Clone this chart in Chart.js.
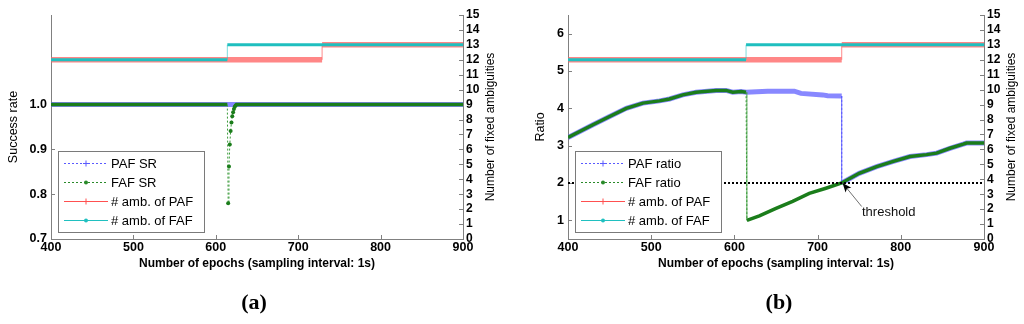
<!DOCTYPE html>
<html>
<head>
<meta charset="utf-8">
<script src="https://cdn.jsdelivr.net/npm/chart.js@4.4.1/dist/chart.umd.min.js"></script>
<style>
  html, body { margin: 0; padding: 0; background: #fff; }
  body { width: 1024px; height: 324px; position: relative; overflow: hidden; }
  canvas { position: absolute; top: 0; }
  #cA { left: 0; }
  #cB { left: 512px; }
  .lab { position: absolute; top: 289px; transform: translateX(-50%);
         font: bold 22px "Liberation Serif", "Times New Roman", serif; color: #000; }
</style>
</head>
<body>
<canvas id="cA" width="512" height="324"></canvas>
<canvas id="cB" width="512" height="324"></canvas>
<div class="lab" style="left:254px">(a)</div>
<div class="lab" style="left:779px">(b)</div>
<script>
// ---- data ----
const epochTicks = [400, 500, 600, 700, 800, 900];
const srTicks = [0.7, 0.8, 0.9, 1.0];
const ratioTicks = [1, 2, 3, 4, 5, 6];
const ambTicks = [0, 1, 2, 3, 4, 5, 6, 7, 8, 9, 10, 11, 12, 13, 14, 15];

// (a) success rate
const pafSrEpochs = [400, 900];
const pafSR = [1, 1];
const fafSrEpochs = [400, 614, 615, 616, 617, 618, 619, 620, 621, 622, 623, 624, 625, 900];
const fafSR = [1, 1, 0.78, 0.862, 0.911, 0.941, 0.96, 0.974, 0.983, 0.99, 0.995, 0.998, 1, 1];

// number of fixed ambiguities (same in both panels)
const ambPafEpochs = [400, 729, 729, 900];
const ambPaf = [12, 12, 13, 13];
const ambFafEpochs = [400, 614, 614, 900];
const ambFaf = [12, 12, 13, 13];

// (b) ratio
const pafRatioEpochs = [400, 430, 450, 470, 490, 510, 522, 538, 554, 578, 590, 598, 608, 614, 640, 672, 680, 706, 712, 729,
  729, 750, 771, 791, 811, 831, 843, 859, 875, 879, 900];
const pafRatio = [3.22, 3.56, 3.78, 4.0, 4.14, 4.2, 4.25, 4.36, 4.43, 4.48, 4.48, 4.43, 4.45, 4.43, 4.46, 4.46, 4.40, 4.36, 4.34, 4.33,
  2.0, 2.26, 2.44, 2.58, 2.71, 2.76, 2.80, 2.93, 3.04, 3.07, 3.07];
const fafRatioEpochs = [400, 430, 450, 470, 490, 510, 522, 538, 554, 578, 590, 598, 608, 614,
  615, 630, 650, 670, 690, 710, 729, 750, 771, 791, 811, 831, 843, 859, 875, 879, 900];
const fafRatio = [3.22, 3.56, 3.78, 4.0, 4.14, 4.2, 4.25, 4.36, 4.43, 4.48, 4.48, 4.43, 4.45, 4.43,
  1.0, 1.12, 1.32, 1.51, 1.72, 1.86, 2.0, 2.26, 2.44, 2.58, 2.71, 2.76, 2.80, 2.93, 3.04, 3.07, 3.07];
const thrEpochs = [400, 900];
const thrRatio = [2, 2];

Chart.defaults.font.family = '"Liberation Sans", Arial, sans-serif';
Chart.defaults.color = '#000';

const BLUE = 'rgba(96,96,255,0.75)', GREEN = '#1b7d1b', RED = 'rgba(255,95,95,0.75)', CYAN = '#1fbfbf';

const pts = (xs, ys) => xs.map((x, i) => ({ x, y: ys[i] }));

// jumps between epochs are drawn thin, like the sparse markers in the original
function steep(c) {
  const dx = Math.abs(c.p1.x - c.p0.x), dy = Math.abs(c.p1.y - c.p0.y);
  return dy > 1.2 && dy > 1.5 * dx;
}

function lineSet(label, data, o) {
  return {
    label, data, order: o.order, yAxisID: o.axis || 'y',
    borderColor: o.color, borderWidth: o.width, borderDash: o.dash || [],
    pointRadius: o.marks || 0, pointHoverRadius: 0,
    pointBackgroundColor: o.jumpColor, pointBorderWidth: 0,
    segment: {
      borderWidth: c => steep(c) ? 1 : undefined,
      borderColor: c => steep(c) ? o.jumpColor : undefined,
      borderDash: c => steep(c) ? o.jumpDash : undefined
    },
    legend: o.legend
  };
}

const axisDeco = {
  id: 'axisDeco',
  beforeDatasetsDraw(chart) {
    const { ctx, chartArea: ca, scales } = chart;
    ctx.save();
    ctx.strokeStyle = '#808080';
    ctx.lineWidth = 1;
    ctx.beginPath();
    scales.x.ticks.forEach(t => {
      const px = Math.round(scales.x.getPixelForValue(t.value)) + 0.5;
      ctx.moveTo(px, ca.bottom); ctx.lineTo(px, ca.bottom - 4);
    });
    scales.y.ticks.forEach(t => {
      const py = Math.round(scales.y.getPixelForValue(t.value)) + 0.5;
      ctx.moveTo(ca.left, py); ctx.lineTo(ca.left + 4, py);
    });
    scales.y2.ticks.forEach(t => {
      const py = Math.round(scales.y2.getPixelForValue(t.value)) + 0.5;
      ctx.moveTo(ca.right, py); ctx.lineTo(ca.right - 4, py);
    });
    ctx.stroke();
    ctx.restore();
  },
  afterDraw(chart, args, opts) {
    const { ctx, chartArea: ca } = chart;
    ctx.save();
    ctx.translate(ca.right + 28, (ca.top + ca.bottom) / 2);
    ctx.rotate(-Math.PI / 2);
    ctx.fillStyle = '#000';
    ctx.font = '12px "Liberation Sans", Arial, sans-serif';
    ctx.textAlign = 'center';
    ctx.textBaseline = 'middle';
    ctx.fillText(opts.rightTitle, 0, 0);
    ctx.restore();
  }
};

const boxLegend = {
  id: 'boxLegend',
  afterDraw(chart) {
    const { ctx, chartArea: ca } = chart;
    const w = 146, h = 81;
    const x0 = Math.round(ca.left + 7), y0 = Math.round(ca.bottom - 7 - h);
    ctx.save();
    ctx.fillStyle = '#fff';
    ctx.fillRect(x0, y0, w, h);
    ctx.strokeStyle = '#7a7a7a';
    ctx.lineWidth = 1;
    ctx.strokeRect(x0 + 0.5, y0 + 0.5, w, h);
    const items = chart.data.datasets.filter(d => d.legend).sort((a, b) => a.legend.rank - b.legend.rank);
    items.forEach((d, i) => {
      const L = d.legend;
      const y = y0 + 12.5 + i * 19;
      ctx.strokeStyle = L.color;
      ctx.lineWidth = 1;
      ctx.setLineDash(L.dash);
      ctx.beginPath();
      ctx.moveTo(x0 + 6, y); ctx.lineTo(x0 + 50, y);
      ctx.stroke();
      ctx.setLineDash([]);
      const mx = x0 + 28;
      if (L.marker === 'plus') {
        ctx.beginPath();
        ctx.moveTo(mx - 3, y); ctx.lineTo(mx + 3, y);
        ctx.moveTo(mx, y - 3); ctx.lineTo(mx, y + 3);
        ctx.stroke();
      } else {
        ctx.fillStyle = L.color;
        ctx.beginPath();
        ctx.arc(mx, y, 2, 0, Math.PI * 2);
        ctx.fill();
      }
      ctx.fillStyle = '#000';
      ctx.font = '13px "Liberation Sans", Arial, sans-serif';
      ctx.textBaseline = 'middle';
      ctx.fillText(d.label, x0 + 53, y + 0.5);
    });
    ctx.restore();
  }
};

const arrowNote = {
  id: 'arrowNote',
  afterDatasetsDraw(chart, args, opts) {
    if (!opts.text) return;
    const { ctx, scales: { x, y } } = chart;
    const hx = x.getPixelForValue(opts.head[0]), hy = y.getPixelForValue(opts.head[1]);
    const tx = x.getPixelForValue(opts.tail[0]), ty = y.getPixelForValue(opts.tail[1]);
    const ang = Math.atan2(hy - ty, hx - tx);
    ctx.save();
    ctx.strokeStyle = '#707070';
    ctx.lineWidth = 1;
    ctx.beginPath();
    ctx.moveTo(tx, ty); ctx.lineTo(hx, hy);
    ctx.stroke();
    ctx.fillStyle = '#000';
    ctx.beginPath();
    ctx.moveTo(hx, hy);
    ctx.lineTo(hx - 10 * Math.cos(ang - 0.38), hy - 10 * Math.sin(ang - 0.38));
    ctx.lineTo(hx - 7 * Math.cos(ang), hy - 7 * Math.sin(ang));
    ctx.lineTo(hx - 10 * Math.cos(ang + 0.38), hy - 10 * Math.sin(ang + 0.38));
    ctx.closePath();
    ctx.fill();
    ctx.font = '13px "Liberation Sans", Arial, sans-serif';
    ctx.textAlign = 'center';
    ctx.textBaseline = 'middle';
    ctx.fillStyle = '#111';
    ctx.fillText(opts.text, x.getPixelForValue(opts.at[0]), y.getPixelForValue(opts.at[1]));
    ctx.restore();
  }
};

const tickFont = { size: 12.5, weight: 'bold' };
const axisGrid = { display: true, drawOnChartArea: false, drawTicks: false, color: '#808080' };
const axisBorder = { display: true, color: '#808080', width: 1 };

function makeOptions(p) {
  return {
    responsive: false,
    animation: false,
    devicePixelRatio: 1,
    layout: { padding: { top: 15, left: 0, right: 0, bottom: 0 } },
    plugins: {
      legend: { display: false },
      tooltip: { enabled: false },
      axisDeco: { rightTitle: 'Number of fixed ambiguities' },
      arrowNote: p.note || {}
    },
    scales: {
      x: {
        type: 'linear', min: 400, max: 900,
        afterBuildTicks: s => { s.ticks = epochTicks.map(v => ({ value: v })); },
        afterFit: s => { s.height = 85; },
        grid: axisGrid, border: axisBorder,
        ticks: { font: tickFont, padding: 1, maxRotation: 0, color: '#000' },
        title: { display: true, text: 'Number of epochs (sampling interval: 1s)',
                 font: { size: 12, weight: 'bold' }, color: '#000', padding: { top: 0, bottom: 53 } }
      },
      y: {
        type: 'linear', position: 'left', min: p.yMin, max: p.yMax,
        afterBuildTicks: s => { s.ticks = p.yTicks.map(v => ({ value: v })); },
        afterFit: s => { s.width = p.leftW; },
        grid: axisGrid, border: axisBorder,
        ticks: { font: tickFont, padding: 4, color: '#000', callback: p.yFmt },
        title: { display: true, text: p.yTitle, font: { size: 12.5 }, color: '#000', padding: { top: p.yTitlePad, bottom: 0 } }
      },
      y2: {
        type: 'linear', position: 'right', min: 0, max: 15,
        afterBuildTicks: s => { s.ticks = ambTicks.map(v => ({ value: v })); },
        afterFit: s => { s.width = p.rightW; },
        grid: axisGrid, border: axisBorder,
        ticks: { font: { size: 12, weight: 'bold' }, padding: 3, color: '#000', autoSkip: false }
      }
    }
  };
}

function ambSets() {
  return [
    lineSet('# amb. of PAF', pts(ambPafEpochs, ambPaf), { order: 4, axis: 'y2', color: RED, width: 5.5,
      jumpColor: 'rgba(255,110,110,0.8)', jumpDash: [],
      legend: { rank: 3, color: '#ff5050', dash: [], marker: 'plus' } }),
    lineSet('# amb. of FAF', pts(ambFafEpochs, ambFaf), { order: 3, axis: 'y2', color: CYAN, width: 3,
      jumpColor: 'rgba(40,200,200,0.6)', jumpDash: [],
      legend: { rank: 4, color: '#20c0c0', dash: [], marker: 'dot' } })
  ];
}

// ---- (a) success rate ----
new Chart(document.getElementById('cA'), {
  type: 'line',
  data: {
    datasets: [
      lineSet('PAF SR', pts(pafSrEpochs, pafSR), { order: 2, color: BLUE, width: 5,
        jumpColor: '#5a5aff', jumpDash: [2, 2],
        legend: { rank: 1, color: '#5a5aff', dash: [2, 2], marker: 'plus' } }),
      Object.assign(lineSet('FAF SR', pts(fafSrEpochs, fafSR), { order: 1, color: GREEN, width: 3.5,
        jumpColor: '#3a9a3a', jumpDash: [2, 2],
        legend: { rank: 2, color: '#2a8a2a', dash: [2, 2], marker: 'dot' } }),
        { pointRadius: c => (c.raw && c.raw.y < 0.9995 ? 2 : 0), pointBackgroundColor: GREEN }),
      ...ambSets()
    ]
  },
  options: makeOptions({
    yMin: 0.7, yMax: 1.2, yTicks: srTicks, yFmt: v => v.toFixed(1),
    yTitle: 'Success rate', yTitlePad: 6, leftW: 51, rightW: 49
  }),
  plugins: [axisDeco, boxLegend, arrowNote]
});

// ---- (b) ratio ----
new Chart(document.getElementById('cB'), {
  type: 'line',
  data: {
    datasets: [
      lineSet('threshold', pts(thrEpochs, thrRatio), { order: 0, color: '#000', width: 2, dash: [2, 2],
        jumpColor: '#000', jumpDash: [2, 2] }),
      lineSet('PAF ratio', pts(pafRatioEpochs, pafRatio), { order: 2, color: BLUE, width: 5,
        jumpColor: '#5a5aff', jumpDash: [2, 2],
        legend: { rank: 1, color: '#5a5aff', dash: [2, 2], marker: 'plus' } }),
      lineSet('FAF ratio', pts(fafRatioEpochs, fafRatio), { order: 1, color: GREEN, width: 3.5,
        jumpColor: '#3a9a3a', jumpDash: [2, 2],
        legend: { rank: 2, color: '#2a8a2a', dash: [2, 2], marker: 'dot' } }),
      ...ambSets()
    ]
  },
  options: makeOptions({
    yMin: 0.5, yMax: 6.5, yTicks: ratioTicks, yFmt: v => String(v),
    yTitle: 'Ratio', yTitlePad: 21, leftW: 56, rightW: 40,
    note: { text: 'threshold', head: [730, 2.0], tail: [753, 1.37], at: [785.5, 1.2] }
  }),
  plugins: [axisDeco, boxLegend, arrowNote]
});
</script>
</body>
</html>
